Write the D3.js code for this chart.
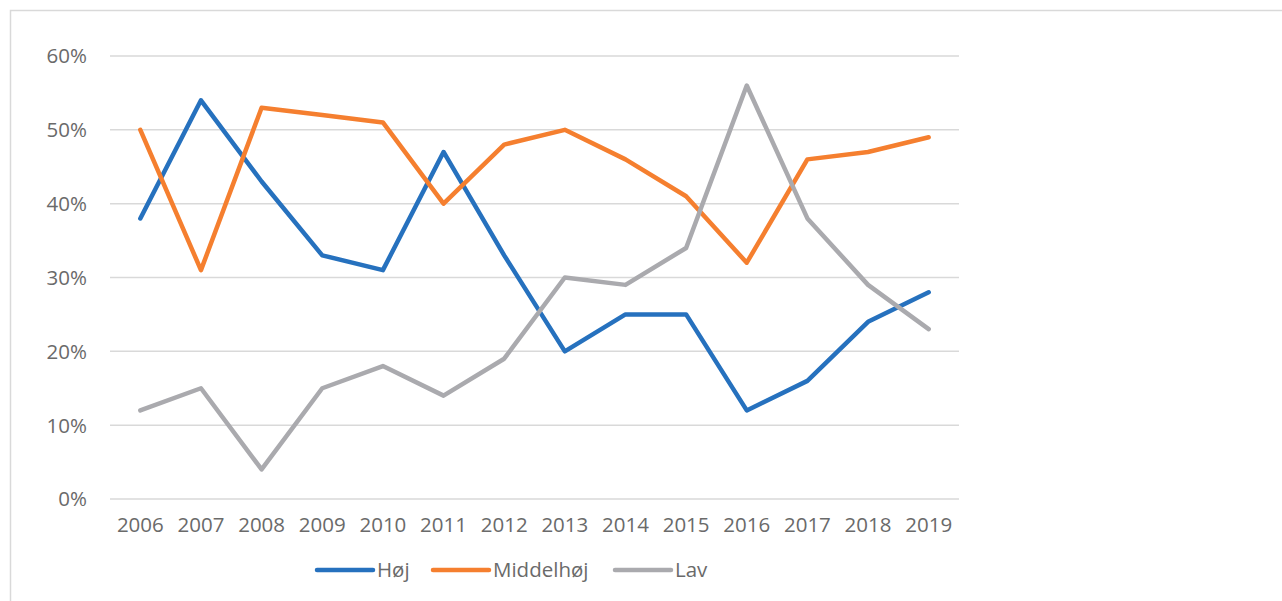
<!DOCTYPE html>
<html><head><meta charset="utf-8">
<script src="https://cdn.jsdelivr.net/npm/d3@7"></script>
<style>
body{margin:0;background:#fff;}
svg{display:block;}
text{font-family:"Open Sans",sans-serif;fill:#6A6A6A;}
</style></head>
<body>
<svg id="c" width="1282" height="601"></svg>
<script>
const years = ["2006","2007","2008","2009","2010","2011","2012","2013","2014","2015","2016","2017","2018","2019"];
const hoj = [38,54,43,33,31,47,33,20,25,25,12,16,24,28];
const middelhoj = [50,31,53,52,51,40,48,50,46,41,32,46,47,49];
const lav = [12,15,4,15,18,14,19,30,29,34,56,38,29,23];
const yTicks = [0,10,20,30,40,50,60];
const seriesNames = ["Høj","Middelhøj","Lav"];
const colors = ["#2671BE","#F57F2F","#AAAAAE"];

const svg = d3.select("#c");
// chart border
svg.append("rect").attr("x",10.5).attr("y",10.5).attr("width",1290).attr("height",620)
  .attr("fill","none").attr("stroke","#D9D9D9").attr("stroke-width",1.5);

const x = d3.scaleBand().domain(years).range([110,959]);
const y = d3.scaleLinear().domain([0,60]).range([499,56]);

// gridlines
svg.append("g").selectAll("line").data(yTicks).join("line")
  .attr("x1",110).attr("x2",959)
  .attr("y1",d=>y(d)).attr("y2",d=>y(d))
  .attr("stroke","#D9D9D9").attr("stroke-width",1.5);

// y labels
svg.append("g").selectAll("text").data(yTicks).join("text")
  .attr("x",87).attr("y",d=>y(d)).attr("dy","0.36em")
  .attr("text-anchor","end").attr("font-size",20.5)
  .text(d=>d+"%");

// x labels
svg.append("g").selectAll("text").data(years).join("text")
  .attr("x",d=>x(d)+x.bandwidth()/2).attr("y",525).attr("dy","0.36em")
  .attr("text-anchor","middle").attr("font-size",20.5)
  .text(d=>d);

const line = d3.line().x((d,i)=>x(years[i])+x.bandwidth()/2).y(d=>y(d));
const data = [hoj, middelhoj, lav];
data.forEach((s,k)=>{
  svg.append("path").datum(s).attr("d",line)
    .attr("fill","none").attr("stroke",colors[k]).attr("stroke-width",4.5)
    .attr("stroke-linejoin","round").attr("stroke-linecap","round");
});

// legend
const legX = [317,433,615];
seriesNames.forEach((n,k)=>{
  svg.append("line").attr("x1",legX[k]).attr("x2",legX[k]+56).attr("y1",570).attr("y2",570)
    .attr("stroke",colors[k]).attr("stroke-width",4.5).attr("stroke-linecap","round");
  svg.append("text").attr("x",legX[k]+60).attr("y",570).attr("dy","0.36em")
    .attr("font-size",20.5).text(n);
});
</script>
</body></html>
